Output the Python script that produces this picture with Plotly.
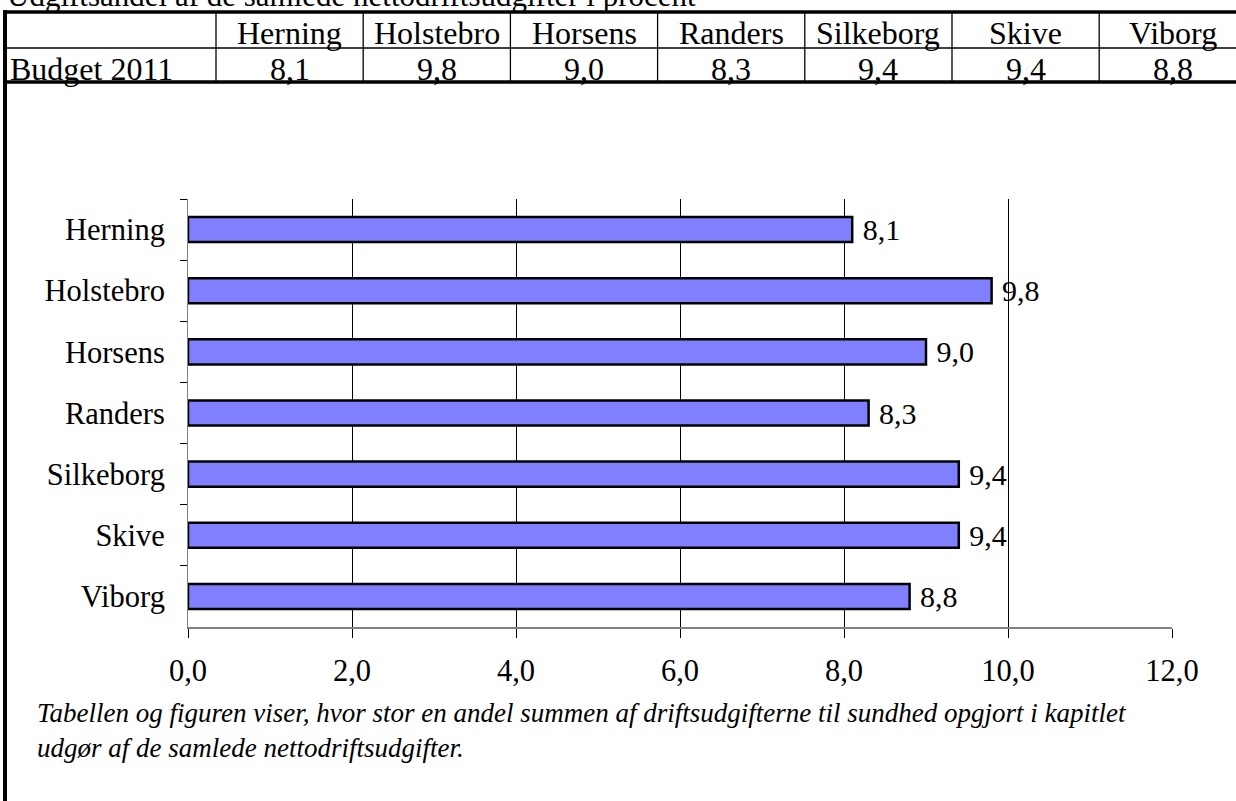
import plotly.graph_objects as go

# data
title = "Udgiftsandel af de samlede nettodriftsudgifter i procent"
row_label = "Budget 2011"
cities = ["Herning", "Holstebro", "Horsens", "Randers", "Silkeborg", "Skive", "Viborg"]
budget_2011 = [8.1, 9.8, 9.0, 8.3, 9.4, 9.4, 8.8]
x_ticks = [0, 2, 4, 6, 8, 10, 12]
caption_lines = ["Tabellen og figuren viser, hvor stor en andel summen af driftsudgifterne til sundhed opgjort i kapitlet",
                 "udgør af de samlede nettodriftsudgifter."]

W, H = 1236, 801
L, R, T, B = 188, 1172, 199, 627  # plot area in pixels
FONT = "Liberation Serif, Times New Roman, DejaVu Serif, serif"


def px(x):
    return (x - L) / (R - L)


def py(y):
    return (B - y) / (B - T)


def comma(v):
    return f"{v:.1f}".replace(".", ",")


fig = go.Figure()

fig.add_trace(go.Bar(
    x=budget_2011, y=cities, orientation="h",
    width=0.41,
    marker=dict(color="#8080FF", line=dict(color="black", width=2.5)),
    text=[" " + comma(v) for v in budget_2011],
    textposition="outside", constraintext="none", cliponaxis=False,
    textfont=dict(family=FONT, size=30, color="black"),
    hoverinfo="skip",
))

shapes = []
annotations = []

# table lines
col_w = 147.2
col0 = 216
shapes.append(dict(type="line", xref="paper", yref="paper", x0=px(3), x1=px(W + 5),
                   y0=py(12), y1=py(12), line=dict(color="black", width=3.5)))
shapes.append(dict(type="line", xref="paper", yref="paper", x0=px(3), x1=px(W + 5),
                   y0=py(48), y1=py(48), line=dict(color="black", width=1.3)))
shapes.append(dict(type="line", xref="paper", yref="paper", x0=px(3), x1=px(W + 5),
                   y0=py(82), y1=py(82), line=dict(color="black", width=3.5)))
for k in range(len(cities)):
    xl = col0 + k * col_w
    shapes.append(dict(type="line", xref="paper", yref="paper", x0=px(xl), x1=px(xl),
                       y0=py(12), y1=py(82), line=dict(color="black", width=1.3)))
# left frame
shapes.append(dict(type="line", xref="paper", yref="paper", x0=px(5), x1=px(5),
                   y0=py(10), y1=py(H + 5), line=dict(color="black", width=4)))

# table text
for k, (c, v) in enumerate(zip(cities, budget_2011)):
    xc = col0 + k * col_w + col_w / 2
    annotations.append(dict(x=px(xc), y=py(33), xref="paper", yref="paper", text=c,
                            showarrow=False, xanchor="center", yanchor="middle",
                            font=dict(family=FONT, size=32, color="black")))
    annotations.append(dict(x=px(xc), y=py(69), xref="paper", yref="paper", text=comma(v),
                            showarrow=False, xanchor="center", yanchor="middle",
                            font=dict(family=FONT, size=32, color="black")))
annotations.append(dict(x=px(8), y=py(69), xref="paper", yref="paper", text=row_label,
                        showarrow=False, xanchor="left", yanchor="middle",
                        font=dict(family=FONT, size=32, color="black")))

# clipped title at the very top
annotations.append(dict(x=px(5), y=py(-5), xref="paper", yref="paper", text=title,
                        showarrow=False, xanchor="left", yanchor="middle",
                        font=dict(family=FONT, size=31, color="black")))

# caption
annotations.append(dict(x=px(35), y=py(730), xref="paper", yref="paper",
                        text="<br>".join(caption_lines),
                        showarrow=False, xanchor="left", yanchor="middle", align="left",
                        font=dict(family=FONT, size=27, color="black", style="italic")))

fig.update_layout(
    width=W, height=H,
    margin=dict(l=L, r=W - R, t=T, b=H - B, pad=0),
    plot_bgcolor="white", paper_bgcolor="white",
    separators=",.",
    showlegend=False,
    shapes=shapes, annotations=annotations,
    font=dict(family=FONT, size=30, color="black"),
)

fig.update_xaxes(
    range=[0, 12], tickvals=x_ticks, tickformat=".1f",
    showgrid=True, gridcolor="black", gridwidth=1,
    showline=True, linecolor="#808080", linewidth=2,
    ticks="outside", ticklen=9, tickcolor="black", tickwidth=1,
    ticklabelstandoff=6,
    tickfont=dict(family=FONT, size=30.5, color="black"),
    zeroline=False, fixedrange=True,
)
fig.update_yaxes(
    autorange="reversed",
    showline=True, linecolor="#808080", linewidth=1,
    ticks="outside", ticklen=7, tickcolor="black", tickwidth=1,
    tickson="boundaries", showgrid=False,
    ticklabelstandoff=16,
    tickfont=dict(family=FONT, size=30.5, color="black"),
    fixedrange=True,
)

# page body has a default 8px margin; drop it so the figure sits at the window corner
fig.write_html("out.html", post_script="document.body.style.margin='0';",
               config={"displayModeBar": False})
